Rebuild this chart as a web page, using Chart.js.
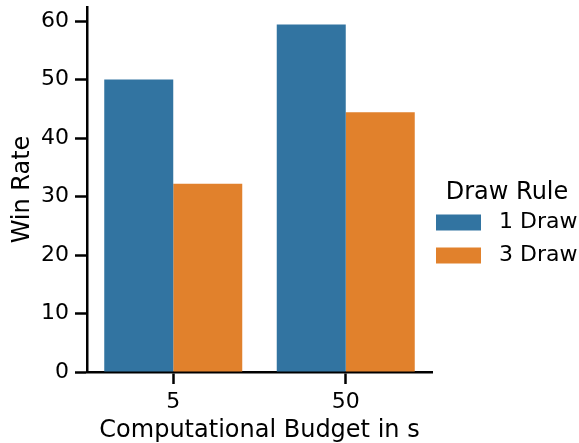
<!DOCTYPE html>
<html>
<head>
<meta charset="utf-8">
<script src="https://cdn.jsdelivr.net/npm/chart.js@4.4.1/dist/chart.umd.min.js"></script>
<style>
    html, body { margin: 0; padding: 0; background: #fff; }
    #wrap { width: 579px; height: 443px; }
</style>
</head>
<body>
<div id="wrap"><canvas id="winRateChart" width="579" height="443"></canvas></div>
<script>
// Win rate by computational budget, grouped by draw rule
const budgets = ['5', '50'];
const oneDraw = [50.0, 59.4];
const threeDraw = [32.2, 44.4];
const seriesNames = ['1 Draw', '3 Draw'];
const yTicks = [0, 10, 20, 30, 40, 50, 60];

const FONT = 'DejaVu Sans';
const axisLine = { color: '#000', width: 2.5 };

// legend sits a little closer to the plot than chart.js puts it,
// widen it so the title stays centred over the entries
const legendNudge = {
    id: 'legendNudge',
    afterLayout(chart) {
        if (!chart.legend) return;
        chart.legend.left -= 7;
        chart.legend.width += 17;
    }
};

function makeChart() {
    const ctx = document.getElementById('winRateChart');

    new Chart(ctx, {
        type: 'bar',
        data: {
            labels: budgets,
            datasets: [{
                label: seriesNames[0],
                data: oneDraw,
                backgroundColor: '#3274a1',
                categoryPercentage: 0.8,
                barPercentage: 1.0
            }, {
                label: seriesNames[1],
                data: threeDraw,
                backgroundColor: '#e1812c',
                categoryPercentage: 0.8,
                barPercentage: 1.0
            }]
        },
        options: {
            responsive: false,
            animation: false,
            layout: {
                padding: { top: 7, left: 0, right: 0, bottom: 0 }
            },
            scales: {
                x: {
                    offset: true,
                    grid: {
                        offset: false,
                        drawOnChartArea: false,
                        drawTicks: true,
                        tickLength: 12,
                        tickWidth: 2.5,
                        tickColor: '#000'
                    },
                    border: axisLine,
                    ticks: {
                        color: '#000',
                        padding: 5,
                        font: { family: FONT, size: 22 }
                    },
                    title: {
                        display: true,
                        text: 'Computational Budget in s',
                        color: '#000',
                        padding: { top: 0, bottom: -2 },
                        font: { family: FONT, size: 24 }
                    },
                    afterFit: scale => { scale.height = 71; }
                },
                y: {
                    min: 0,
                    max: 62.4,
                    afterBuildTicks: scale => {
                        scale.ticks = yTicks.map(v => ({ value: v }));
                    },
                    grid: {
                        drawOnChartArea: false,
                        drawTicks: true,
                        tickLength: 12,
                        tickWidth: 2.5,
                        tickColor: '#000'
                    },
                    border: axisLine,
                    ticks: {
                        color: '#000',
                        padding: 6,
                        font: { family: FONT, size: 22 }
                    },
                    title: {
                        display: true,
                        text: 'Win Rate',
                        color: '#000',
                        padding: { top: 8, bottom: 4 },
                        font: { family: FONT, size: 24 }
                    },
                    afterFit: scale => {
                        scale.width = 87;
                        scale.paddingTop = 0;
                        scale.paddingBottom = 0;
                    }
                }
            },
            plugins: {
                legend: {
                    position: 'right',
                    align: 'center',
                    maxWidth: 147,
                    title: {
                        display: true,
                        text: 'Draw Rule',
                        color: '#000',
                        padding: { top: 8, bottom: -9 },
                        font: { family: FONT, size: 24 }
                    },
                    labels: {
                        boxWidth: 45,
                        boxHeight: 16,
                        padding: 11,
                        color: '#000',
                        font: { family: FONT, size: 22 },
                        generateLabels: chart => {
                            const items = Chart.defaults.plugins.legend.labels.generateLabels(chart);
                            items.forEach(it => { it.text = ' ' + it.text; it.lineWidth = 0; });
                            return items;
                        }
                    }
                },
                tooltip: { enabled: false }
            }
        },
        plugins: [legendNudge]
    });
}

makeChart();
</script>
</body>
</html>
